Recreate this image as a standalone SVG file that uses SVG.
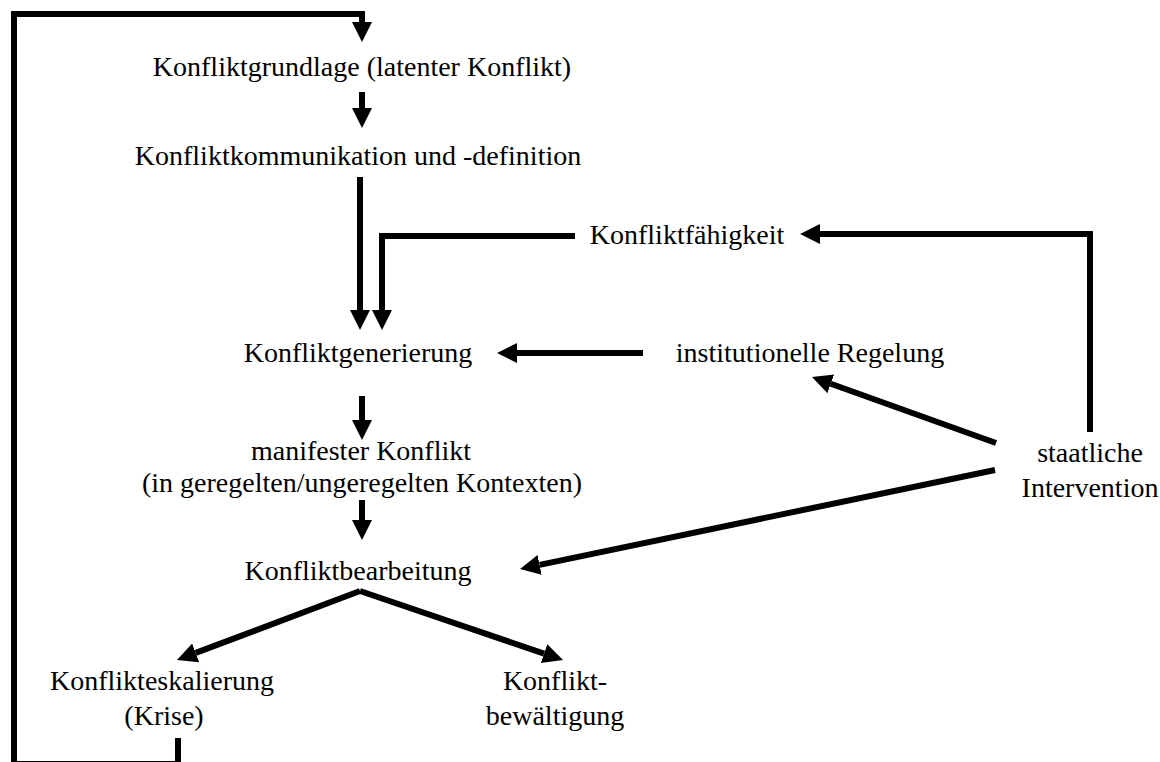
<svg xmlns="http://www.w3.org/2000/svg" width="1160" height="762" viewBox="0 0 1160 762">
<style>
.t text{font-size:28px;fill:#000;text-anchor:middle}
.c{fill:none;stroke:#000;stroke-width:6}
</style>
<defs>
<marker id="ah" markerUnits="userSpaceOnUse" markerWidth="22" markerHeight="22" refX="0" refY="10" orient="auto">
<path d="M0,0 L20,10 L0,20 Z" fill="#000"/>
</marker>
</defs>
<rect width="1160" height="762" fill="#fff"/>
<g id="connectors">
<path class="c" d="M178,738 V764 H14 V14 H362 V22" marker-end="url(#ah)"/>
<path class="c" d="M362,92 V108" marker-end="url(#ah)"/>
<path class="c" d="M360,177 V310" marker-end="url(#ah)"/>
<path class="c" d="M575,236 H382 V310" marker-end="url(#ah)"/>
<path class="c" d="M1090,432 V234 H820" marker-end="url(#ah)"/>
<path class="c" d="M643,353 H517" marker-end="url(#ah)"/>
<path class="c" d="M996,443 L830.8,383.8" marker-end="url(#ah)"/>
<path class="c" d="M362,396 V420" marker-end="url(#ah)"/>
<path class="c" d="M362,500 V520" marker-end="url(#ah)"/>
<path class="c" d="M995,470 L539.6,564.9" marker-end="url(#ah)"/>
<path class="c" d="M360,591 L195.7,652.9" marker-end="url(#ah)"/>
<path class="c" d="M360,591 L544.1,653.6" marker-end="url(#ah)"/>
</g>
<g class="t" font-family="Liberation Serif, Times New Roman, serif">
<g id="n1"><text x="362" y="76">Konfliktgrundlage (latenter Konflikt)</text></g>
<g id="n2"><text x="358" y="165">Konfliktkommunikation und -definition</text></g>
<g id="n3"><text x="687" y="244">Konfliktfähigkeit</text></g>
<g id="n4"><text x="358" y="362">Konfliktgenerierung</text></g>
<g id="n5"><text x="810" y="362">institutionelle Regelung</text></g>
<g id="n6"><text x="1090" y="462">staatliche</text><text x="1090" y="497">Intervention</text></g>
<g id="n7"><text x="361" y="460">manifester Konflikt</text><text x="362" y="492">(in geregelten/ungeregelten Kontexten)</text></g>
<g id="n8"><text x="358" y="580">Konfliktbearbeitung</text></g>
<g id="n9"><text x="162" y="690">Konflikteskalierung</text><text x="164" y="725">(Krise)</text></g>
<g id="n10"><text x="555" y="690">Konflikt-</text><text x="555" y="725">bewältigung</text></g>
</g>
</svg>
